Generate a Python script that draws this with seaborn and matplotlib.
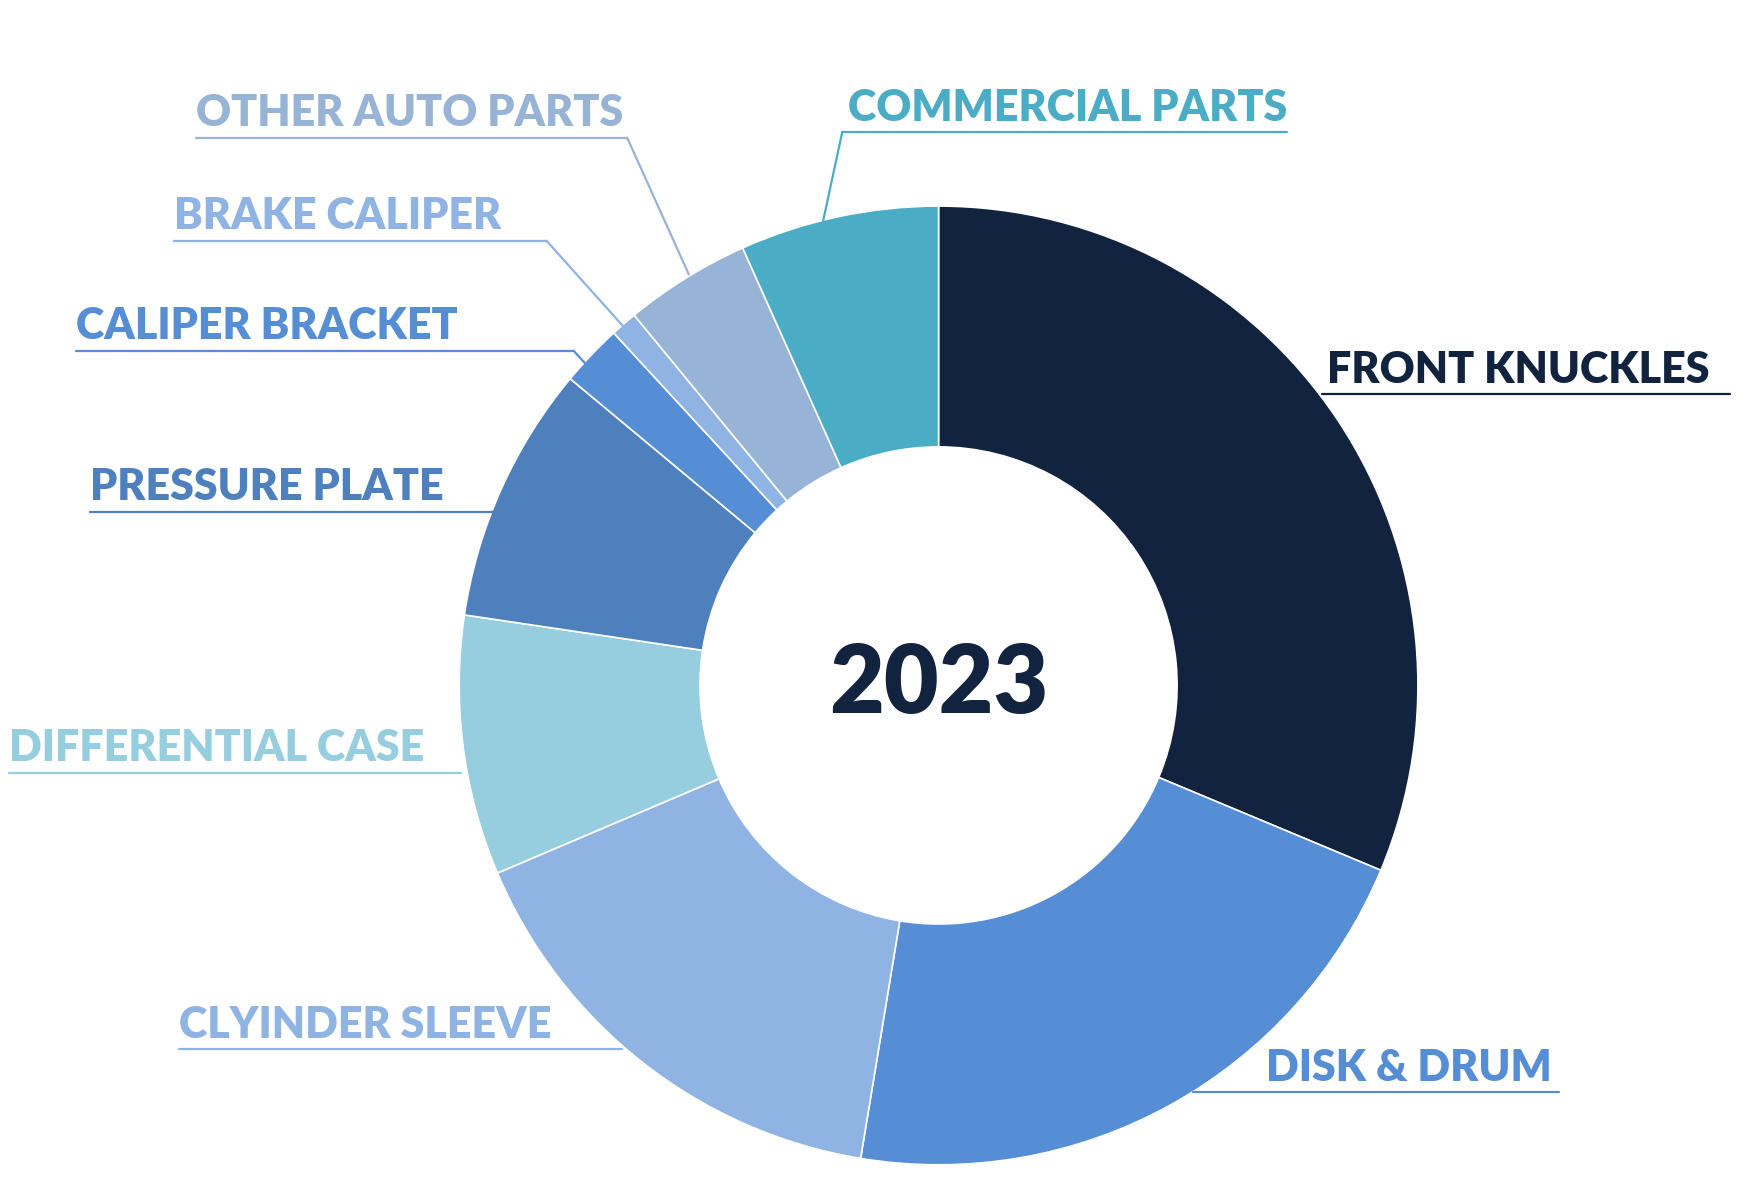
import matplotlib
matplotlib.use("Agg")
import matplotlib.pyplot as plt
import seaborn as sns

# data (share of sales, %), clockwise from top
parts = ["FRONT KNUCKLES", "DISK & DRUM", "CLYINDER SLEEVE", "DIFFERENTIAL CASE",
         "PRESSURE PLATE", "CALIPER BRACKET", "BRAKE CALIPER", "OTHER AUTO PARTS",
         "COMMERCIAL PARTS"]
shares = [31.3, 21.3, 16.0, 8.75, 8.7, 2.1, 0.9, 4.25, 6.7]
colors = ["#11233E", "#568ED6", "#8FB3E3", "#96CDDF", "#4E80BE",
          "#568ED6", "#8FB3E3", "#97B3D6", "#4BACC6"]
year = "2023"

sns.set_theme(style="white")
plt.rcParams['font.family'] = ['Lato', 'DejaVu Sans']

S = 1.12
H = 1187


def py(y):
    # reference pixel y (from top) -> axes y (from bottom)
    return H - y * S


cx, cy, R, r = 838 * S, py(612), 428 * S, 213 * S

fig = plt.figure(figsize=(17.48, 11.87), dpi=100)
ax = fig.add_axes([0, 0, 1, 1])
ax.pie(shares, colors=colors, startangle=90, counterclock=False,
       center=(cx, cy), radius=R, frame=True,
       wedgeprops=dict(width=R - r, edgecolor="white", linewidth=1.2))
ax.set_xlim(0, 1748)
ax.set_ylim(0, H)
ax.set_aspect("equal")
ax.axis("off")

ax.text(cx, cy, year, ha="center", va="center", fontsize=68,
        fontweight="heavy", color="#11233E")

# label layout in reference pixels: text x, underline y, underline x-range, leader end
layout = {
    "FRONT KNUCKLES": (1185, 352, 1180, 1545, None),
    "DISK & DRUM": (1130, 975, 1065, 1392, None),
    "CLYINDER SLEEVE": (160, 937, 160, 555, None),
    "DIFFERENTIAL CASE": (8, 690, 8, 412, None),
    "PRESSURE PLATE": (80, 457, 80, 440, None),
    "CALIPER BRACKET": (68, 313, 68, 512, (523, 325)),
    "BRAKE CALIPER": (155, 215, 155, 488, (557, 292)),
    "OTHER AUTO PARTS": (175, 123, 175, 560, (615, 245)),
    "COMMERCIAL PARTS": (757, 118, 752, 752, (735, 197)),
}
for name, col in zip(parts, colors):
    tx, uy, x0, x1, lead = layout[name]
    t = ax.text(tx * S, py(uy - 4), name, ha="left", va="bottom",
                fontsize=31, fontweight="heavy", color=col)
    fig.canvas.draw()
    bb = t.get_window_extent().transformed(ax.transData.inverted())
    xa = min(x0 * S, bb.x0)
    xb = max(x1 * S, bb.x1)
    ax.plot([xa, xb], [py(uy), py(uy)], color=col, lw=1.6)
    if lead is not None:
        sx = x1 * S if name != "COMMERCIAL PARTS" else x0 * S
        ax.plot([sx, lead[0] * S], [py(uy), py(lead[1])], color=col, lw=1.6)

fig.savefig("out.png", dpi=100, facecolor="white")
